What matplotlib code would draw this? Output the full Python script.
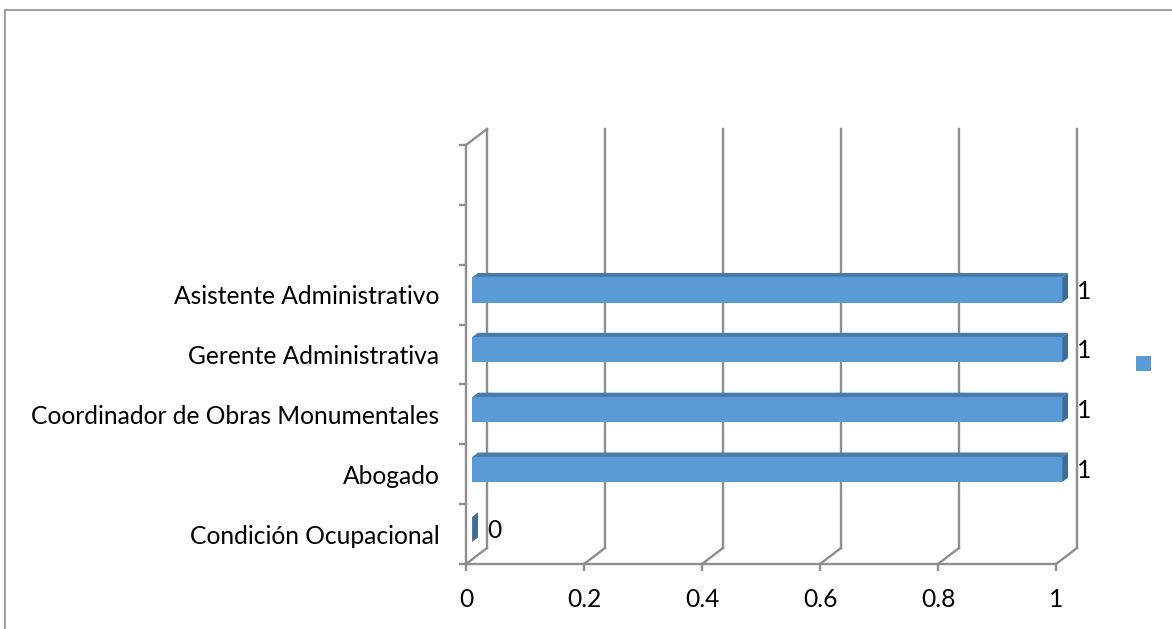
import matplotlib
matplotlib.use("Agg")
import matplotlib.pyplot as plt
import numpy as np
from matplotlib.patches import Polygon, Rectangle
from matplotlib.transforms import IdentityTransform, offset_copy
from matplotlib.lines import Line2D

# ---- data ----
categories = ["Condición Ocupacional", "Abogado", "Coordinador de Obras Monumentales",
              "Gerente Administrativa", "Asistente Administrativo"]
values = [0, 1, 1, 1, 1]
n_slots = 7  # two empty category slots at the top
xticks = [0, 0.2, 0.4, 0.6, 0.8, 1]
xticklabels = ["0", "0.2", "0.4", "0.6", "0.8", "1"]

# ---- style ----
W, H = 1172, 629
FONT = "Lato"
FS = 17.7
GRID = "#8E8E8E"
LW = 1.7
FRONT = "#5B9BD5"
TOP = "#4A7BAA"
SIDE = "#3F6D99"
DEPTH = np.array([21.0, 16.0])  # full depth offset in pixels (right, up)
D0, D1 = 0.29, 0.57               # bar depth range (fraction of full depth)
BAR_H = 0.42

plt.rcParams["font.family"] = [FONT, "DejaVu Sans"]
fig = plt.figure(figsize=(W / 100, H / 100), dpi=100)
fig.patch.set_facecolor("white")

def fx(px):
    return px / W

def fy(py):
    return (H - py) / H

# front plane of the plot area
left, right, top, bottom = 466, 1056, 145, 564
ax = fig.add_axes([fx(left), fy(bottom), fx(right - left), (bottom - top) / H])
ax.set_xlim(0, 1)
ax.set_ylim(-0.5, n_slots - 0.5)
ax.patch.set_alpha(0)

for s in ["top", "right"]:
    ax.spines[s].set_visible(False)
for s in ["left", "bottom"]:
    ax.spines[s].set_color(GRID)
    ax.spines[s].set_linewidth(LW)

ax.set_xticks(xticks)
ax.set_xticklabels(xticklabels, fontsize=FS)
ax.tick_params(axis="x", length=5, width=LW, color=GRID, pad=12)
ax.set_yticks(range(len(categories)))
ax.set_yticklabels(categories, fontsize=FS)
ax.tick_params(axis="y", which="major", length=0, pad=19)
ax.set_yticks(np.arange(-0.5, n_slots, 1.0), minor=True)
ax.tick_params(axis="y", which="minor", length=5, width=LW, color=GRID)

def proj(x, y, d):
    p = ax.transData.transform((x, y))
    return p + DEPTH * d

ident = IdentityTransform()

def add_line(p, q):
    ax.add_line(Line2D([p[0], q[0]], [p[1], q[1]], transform=ident,
                       color=GRID, lw=LW, clip_on=False, zorder=1))

y0, y1 = -0.5, n_slots - 0.5
for x in xticks:
    add_line(proj(x, y0, 1), proj(x, y1, 1))   # back wall gridline
    add_line(proj(x, y0, 0), proj(x, y0, 1))   # floor diagonal
add_line(proj(0, y1, 0), proj(0, y1, 1))       # top of side wall

# ---- bars ----
ypos = np.arange(len(categories))
front_tr = offset_copy(ax.transData, fig=fig, x=DEPTH[0] * D0, y=DEPTH[1] * D0, units="dots")
ax.barh(ypos, values, height=BAR_H, color=FRONT, transform=front_tr, zorder=3, clip_on=False)
for yi, v in zip(ypos, values):
    lo, hi = yi - BAR_H / 2, yi + BAR_H / 2
    topface = [proj(0, hi, D0), proj(v, hi, D0), proj(v, hi, D1), proj(0, hi, D1)]
    side = [proj(v, lo, D0), proj(v, hi, D0), proj(v, hi, D1), proj(v, lo, D1)]
    ax.add_patch(Polygon(topface, closed=True, transform=ident, facecolor=TOP,
                         edgecolor="none", clip_on=False, zorder=2))
    ax.add_patch(Polygon(side, closed=True, transform=ident, facecolor=SIDE,
                         edgecolor="none", clip_on=False, zorder=2))
    ax.annotate(f"{v:g}", xy=(v, yi), xycoords="data",
                xytext=(DEPTH[0] * D0 + 15, DEPTH[1] * D0 - 1), textcoords="offset pixels",
                ha="left", va="center", fontsize=FS, color="black", zorder=4)

# ---- legend marker (empty series name) ----
fig.patches.append(Rectangle((fx(1136), fy(371)), fx(15), 15 / H, transform=fig.transFigure,
                             facecolor=FRONT, edgecolor="none"))

# ---- chart border ----
fig.add_artist(Line2D([fx(5), fx(5)], [fy(10), fy(640)], color="#A0A0A0", lw=1.4,
                      transform=fig.transFigure))
fig.add_artist(Line2D([fx(5), fx(1180)], [fy(10), fy(10)], color="#A0A0A0", lw=1.4,
                      transform=fig.transFigure))

fig.savefig("out.png", dpi=100, facecolor="white")
